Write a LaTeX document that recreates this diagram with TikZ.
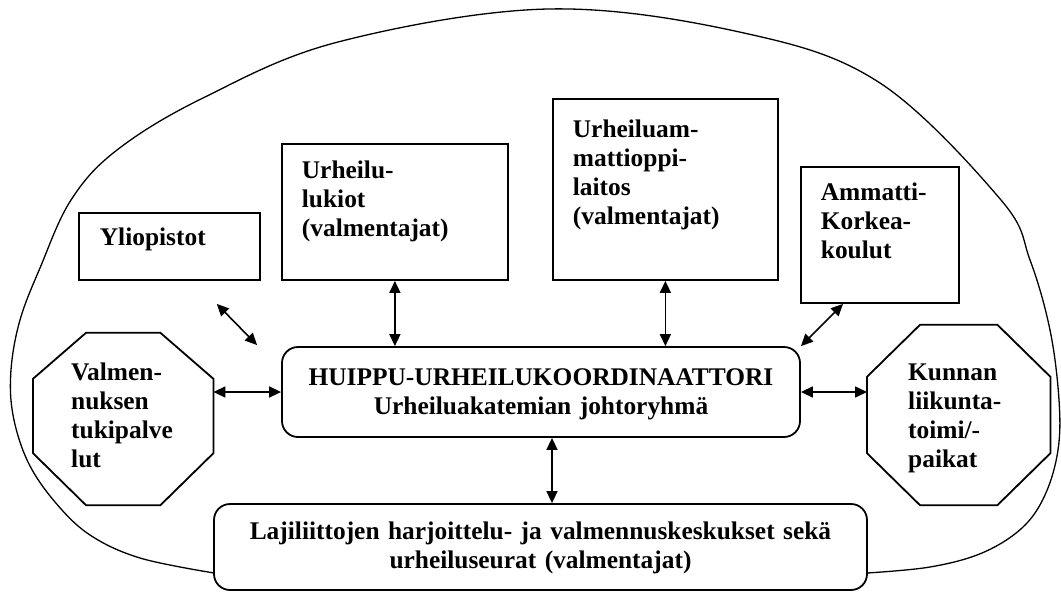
\documentclass[tikz,border=0pt]{standalone}
\usepackage{fontspec}
\setmainfont{Liberation Serif}
\usetikzlibrary{arrows.meta,calc}
\begin{document}
\begin{tikzpicture}[x=1pt,y=-1pt,
  lbl/.style={font={\fontsize{25.4}{29}\selectfont\bfseries\hyphenpenalty=10000}},
  box/.style={draw, line width=1.8pt, lbl, align=left, inner ysep=0pt, anchor=base west},
  rbox/.style={box, rounded corners=16pt, align=center, anchor=base},
  oct/.style={lbl, align=left, inner ysep=0pt, anchor=base west},
  octline/.style={line width=1.8pt},
  outer/.style={line width=1.3pt},
  arr/.style={{Triangle[length=12pt,width=11pt]}-{Triangle[length=12pt,width=11pt]}, line width=1.6pt}]
\fill[white] (0,0) rectangle (1061,592);
\useasboundingbox (0,0) rectangle (1061,592);

% outer enclosing curve
\draw[outer] plot[smooth, tension=0.6] coordinates {
 (214,573) (140,558) (90,535) (55,502) (28,462) (13,415) (11,370) (20,320)
 (40,268) (71,200) (117,150) (203,98) (338,42) (548,9) (744,33) (880,83)
 (1001,200) (1030,260) (1050,330) (1059,400) (1058,450) (1045,495) (1022,528)
 (982,553) (930,567) (867,573)};

% boxes
\node[box, inner xsep=21pt, text width=139pt, text height=32pt, text depth=35pt] (yl) at (78,245) {Yliopistot};
\node[box, inner xsep=20pt, text width=186pt, text height=34pt, text depth=102pt] (lu) at (281,178) {Urheilu-\\lukiot\\(valmentajat)};
\node[box, inner xsep=20pt, text width=185pt, text height=38pt, text depth=143pt] (am) at (552,137) {Urheiluam-\\mattioppi-\\laitos\\(valmentajat)};
\node[box, inner xsep=20pt, text width=118pt, text height=33pt, text depth=103pt] (ak) at (800,200) {Ammatti-\\Korkea-\\koulut};
\node[rbox, inner xsep=9pt, text width=500pt, text height=38pt, text depth=52pt] (hub) at (541,385) {HUIPPU-URHEILUKOORDINAATTORI\\Urheiluakatemian johtoryhmä};
\node[rbox, inner xsep=9pt, text width=635pt, text height=35pt, text depth=51pt] (bot) at (540.5,539) {Lajiliittojen harjoittelu- ja valmennuskeskukset sekä\\urheiluseurat (valmentajat)};

% octagons
\node[oct, inner xsep=38pt, text width=104pt, text height=47pt, text depth=125pt] (vo) at (33,380) {Valmen-\\nuksen\\tukipalve\\lut};
\node[oct, inner xsep=41pt, text width=101pt, text height=55pt, text depth=125pt] (ku) at (867,380) {Kunnan\\liikunta-\\toimi/-\\paikat};
\draw[octline] ([xshift=53pt]vo.north west) -- ([xshift=-53pt]vo.north east) -- ([yshift=-46pt]vo.north east) -- ([yshift=52pt]vo.south east) -- ([xshift=-53pt]vo.south east) -- ([xshift=53pt]vo.south west) -- ([yshift=52pt]vo.south west) -- ([yshift=-46pt]vo.north west) -- cycle;
\draw[octline] ([xshift=53pt]ku.north west) -- ([xshift=-53pt]ku.north east) -- ([yshift=-52pt]ku.north east) -- ([yshift=52pt]ku.south east) -- ([xshift=-53pt]ku.south east) -- ([xshift=53pt]ku.south west) -- ([yshift=52pt]ku.south west) -- ([yshift=-52pt]ku.north west) -- cycle;

% connectors
\coordinate (ylA) at ([shift={(-44pt,-23pt)}]yl.south east);
\coordinate (hubA) at ([shift={(-24pt,1pt)}]hub.north west);
\draw[arr] (ylA) -- (hubA);
\draw[arr] (lu.south) -- (lu.south |- hub.north);
\draw[arr] (am.south) -- (am.south |- hub.north);
\coordinate (akA) at ([xshift=43pt]ak.south west);
\draw[arr] (akA) -- (hub.north east);
\draw[arr] (vo.east |- hub.west) -- (hub.west);
\draw[arr] (hub.east) -- (hub.east -| ku.west);
\coordinate (hubB) at ([xshift=11pt]hub.south);
\draw[arr] (hubB) -- (hubB |- bot.north);
\end{tikzpicture}
\end{document}
